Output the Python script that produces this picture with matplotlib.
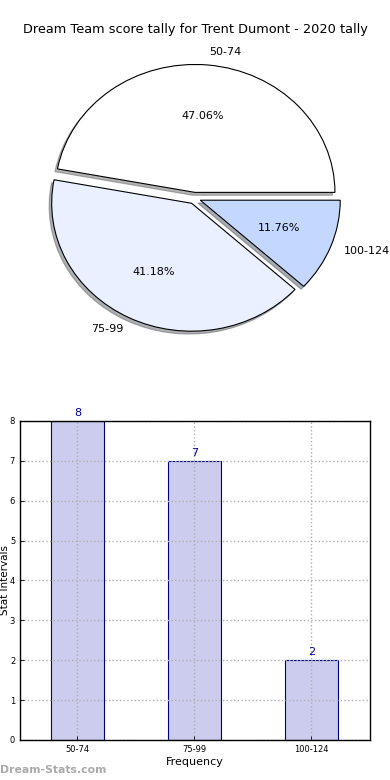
import matplotlib
matplotlib.use("Agg")
import matplotlib.pyplot as plt

categories = ["50-74", "75-99", "100-124"]
counts = [8, 7, 2]
title = "Dream Team score tally for Trent Dumont - 2020 tally"
pie_colors = ["#ffffff", "#eaf0ff", "#c4d8ff"]
yticks = [0, 1, 2, 3, 4, 5, 6, 7, 8]

fig = plt.figure(figsize=(3.9, 7.8), dpi=100)

# Pie
axp = fig.add_axes([0.05, 0.541, 0.897, 0.41])
wedges, texts, autotexts = axp.pie(
    counts, labels=categories, colors=pie_colors, explode=[0.045, 0.045, 0.045],
    autopct="%1.2f%%", shadow=dict(ox=-0.013, oy=-0.016, shade=0.6),
    startangle=0,
    wedgeprops=dict(edgecolor="black", linewidth=0.8),
    textprops=dict(fontsize=8))
axp.set_aspect("auto")
axp.set_xlim(-1.25, 1.25)
axp.set_ylim(-1.25, 1.25)
axp.axis("off")

fig.text(0.5, 1 - 30 / 780, title, ha="center", va="center", fontsize=9.3)

# Bars
axb = fig.add_axes([0.0513, 0.0513, 0.897, 0.409])
x = list(range(len(categories)))
bars = axb.bar(x, counts, width=0.45, color="#ccccee", edgecolor="#000080",
               linewidth=0.8, zorder=0.5)
axb.set_xlim(-0.49, 2.5)
axb.set_ylim(0, 8)
axb.set_yticks(yticks)
axb.set_xticks(x)
axb.set_xticklabels(categories)
axb.tick_params(axis="both", labelsize=6, direction="in", length=3, width=0.6)
axb.set_axisbelow("line")
axb.grid(True, linestyle=":", color="#b0b0b0", linewidth=1.0)
for xi, c in zip(x, counts):
    axb.text(xi, c + 0.08, str(c), ha="center", va="bottom", fontsize=8,
             color="#000099", zorder=4)
axb.set_xlabel("Frequency", fontsize=8, labelpad=2)
axb.set_ylabel("Stat Intervals", fontsize=7.5, va="center")
axb.yaxis.set_label_coords(-0.042, 0.5)
for s in axb.spines.values():
    s.set_linewidth(1.0)

fig.text(0.0, 1 - 770 / 780, "Dream-Stats.com", ha="left", va="center",
         fontsize=7.8, color="#aaaaaa", fontweight="bold")

fig.savefig("out.png", dpi=100)
